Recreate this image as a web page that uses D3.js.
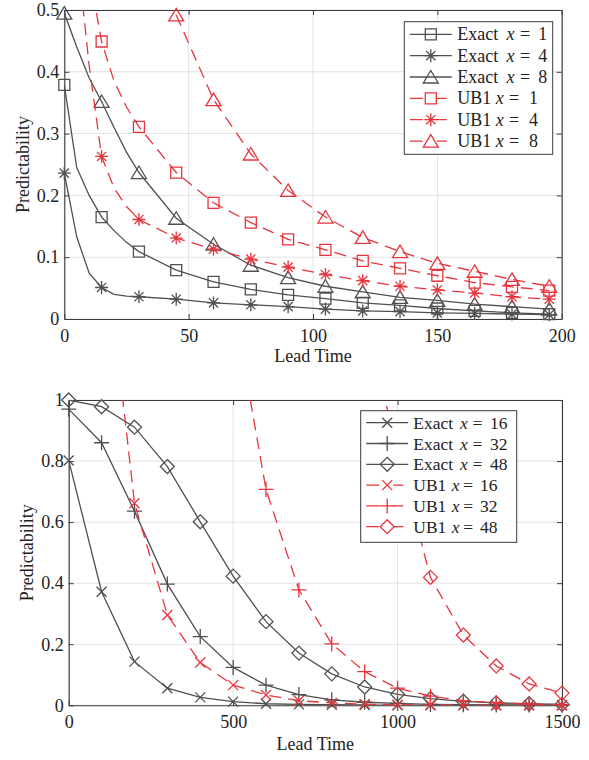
<!DOCTYPE html>
<html>
<head>
<meta charset="utf-8">
<script src="https://cdn.jsdelivr.net/npm/d3@7"></script>
<style>
body { margin: 0; background: #fff; }
text { font-family: "Liberation Serif", "Times New Roman", serif; fill: #222; }
</style>
</head>
<body>
<div id="chart"></div>
<script>
var width = 589,
    height = 760;

var gray = "#505050",
    red = "#e8343c";

// ---- top panel data (lead time 0..195) ----
var leadTop = [0, 5, 10, 15, 20, 25, 30, 45, 60, 75, 90, 105, 120, 135, 150, 165, 180, 195];
var exact1 = [0.379, 0.245, 0.200, 0.165, 0.143, 0.124, 0.109, 0.079, 0.060, 0.048, 0.039, 0.033, 0.026, 0.022, 0.017, 0.013, 0.010, 0.008];
var exact4 = [0.236, 0.133, 0.074, 0.051, 0.040, 0.037, 0.036, 0.032, 0.026, 0.023, 0.020, 0.016, 0.013, 0.012, 0.010, 0.009, 0.008, 0.007];
var exact8 = [0.495, 0.440, 0.390, 0.352, 0.310, 0.270, 0.237, 0.163, 0.121, 0.087, 0.067, 0.053, 0.044, 0.035, 0.030, 0.024, 0.020, 0.016];
var ub1x1 = [1.20, 0.78, 0.56, 0.449, 0.385, 0.343, 0.311, 0.237, 0.188, 0.156, 0.129, 0.112, 0.094, 0.082, 0.070, 0.059, 0.052, 0.046];
var ub1x4 = [1.00, 0.60, 0.41, 0.263, 0.212, 0.182, 0.161, 0.131, 0.113, 0.097, 0.084, 0.072, 0.062, 0.053, 0.047, 0.042, 0.036, 0.032];
var ub1x8 = [3.00, 2.00, 1.50, 1.15, 0.95, 0.82, 0.72, 0.492, 0.355, 0.267, 0.208, 0.165, 0.132, 0.109, 0.090, 0.077, 0.064, 0.053];
var xTicksTop = [0, 50, 100, 150, 200];
var yTicksTop = [0, 0.1, 0.2, 0.3, 0.4, 0.5];

// ---- bottom panel data (lead time 0..1500) ----
var leadBot = [0, 100, 200, 300, 400, 500, 600, 700, 800, 900, 1000, 1100, 1200, 1300, 1400, 1500];
var exact16 = [0.802, 0.372, 0.143, 0.056, 0.026, 0.012, 0.005, 0.003, 0.002, 0.001, 0, 0, 0, 0, 0, 0];
var exact32 = [0.970, 0.860, 0.636, 0.397, 0.225, 0.124, 0.066, 0.035, 0.018, 0.010, 0.006, 0.003, 0.002, 0.001, 0.001, 0];
var exact48 = [1.000, 0.978, 0.911, 0.782, 0.601, 0.423, 0.274, 0.171, 0.103, 0.060, 0.036, 0.022, 0.013, 0.008, 0.005, 0.003];
var ub1x16 = [2.50, 1.62, 0.662, 0.296, 0.140, 0.066, 0.034, 0.015, 0.008, 0.004, 0.002, 0.001, 0.001, 0, 0, 0];
var ub1x32 = [5.0, 4.0, 3.2, 2.5, 1.9, 1.32, 0.707, 0.378, 0.201, 0.110, 0.056, 0.030, 0.015, 0.008, 0.004, 0.002];
var ub1x48 = [9.0, 8.0, 7.0, 6.0, 5.0, 4.4, 3.6, 2.7, 1.9, 1.28, 0.83, 0.419, 0.230, 0.129, 0.070, 0.040];
var xTicksBot = [0, 500, 1000, 1500];
var yTicksBot = [0, 0.2, 0.4, 0.6, 0.8, 1];

var svg = d3.select("#chart")
    .append("svg")
    .attr("width", width)
    .attr("height", height);

// marker shapes, centred on 0,0
function markerPath(type) {
    var p = d3.path();
    if (type == "square") {
        p.rect(-5.5, -5.5, 11, 11);
    } else if (type == "star") {
        p.moveTo(-6.5, 0); p.lineTo(6.5, 0);
        p.moveTo(0, -6.5); p.lineTo(0, 6.5);
        p.moveTo(-4.6, -4.6); p.lineTo(4.6, 4.6);
        p.moveTo(-4.6, 4.6); p.lineTo(4.6, -4.6);
    } else if (type == "triangle") {
        p.moveTo(0, -6.5); p.lineTo(7.5, 6); p.lineTo(-7.5, 6); p.closePath();
    } else if (type == "diamond") {
        p.moveTo(0, -7); p.lineTo(7, 0); p.lineTo(0, 7); p.lineTo(-7, 0); p.closePath();
    } else if (type == "cross") {
        p.moveTo(-5, -5); p.lineTo(5, 5);
        p.moveTo(-5, 5); p.lineTo(5, -5);
    } else if (type == "plus") {
        p.moveTo(-7.5, 0); p.lineTo(7.5, 0);
        p.moveTo(0, -7.5); p.lineTo(0, 7.5);
    }
    return p.toString();
}

function drawPanel(cfg) {
    var x = d3.scaleLinear().domain(cfg.xDomain).range([cfg.left, cfg.right]);
    var y = d3.scaleLinear().domain(cfg.yDomain).range([cfg.bottom, cfg.top]);
    var g = svg.append("g");
    var fmt = d3.format("~g");

    // grid
    g.append("g").selectAll("line").data(cfg.xTicks).enter().append("line")
        .attr("x1", function(d) { return x(d); }).attr("x2", function(d) { return x(d); })
        .attr("y1", cfg.top).attr("y2", cfg.bottom)
        .attr("stroke", "#e2e2e2").attr("stroke-width", 1);
    g.append("g").selectAll("line").data(cfg.yTicks).enter().append("line")
        .attr("y1", function(d) { return y(d); }).attr("y2", function(d) { return y(d); })
        .attr("x1", cfg.left).attr("x2", cfg.right)
        .attr("stroke", "#e2e2e2").attr("stroke-width", 1);

    // axes, ticks pointing inward
    var axB = g.append("g").attr("transform", "translate(0," + cfg.bottom + ")")
        .call(d3.axisBottom(x).tickValues(cfg.xTicks).tickFormat(fmt).tickSizeInner(-5).tickSizeOuter(0).tickPadding(10));
    var axL = g.append("g").attr("transform", "translate(" + cfg.left + ",0)")
        .call(d3.axisLeft(y).tickValues(cfg.yTicks).tickFormat(fmt).tickSizeInner(-5).tickSizeOuter(0).tickPadding(5));
    var axT = g.append("g").attr("transform", "translate(0," + cfg.top + ")")
        .call(d3.axisTop(x).tickValues(cfg.xTicks).tickFormat("").tickSizeInner(-5).tickSizeOuter(0));
    var axR = g.append("g").attr("transform", "translate(" + cfg.right + ",0)")
        .call(d3.axisRight(y).tickValues(cfg.yTicks).tickFormat("").tickSizeInner(-5).tickSizeOuter(0));
    [axB, axL, axT, axR].forEach(function(a) {
        a.selectAll("path.domain").attr("stroke", "#3a3a3a").attr("stroke-width", 1.1);
        a.selectAll(".tick line").attr("stroke", "#3a3a3a").attr("stroke-width", 1);
        a.selectAll("text").attr("font-size", 18).attr("fill", "#222")
            .style("font-family", "'Liberation Serif', serif");
    });

    // axis titles
    g.append("text")
        .attr("x", (cfg.left + cfg.right) / 2).attr("y", cfg.bottom + cfg.xLabelGap)
        .attr("text-anchor", "middle").attr("font-size", 18).text("Lead Time");
    g.append("text")
        .attr("transform", "translate(" + (cfg.left - 35.8) + "," + ((cfg.top + cfg.bottom) / 2) + ") rotate(-90)")
        .attr("text-anchor", "middle").attr("font-size", 18).text("Predictability");

    var clipId = "clip" + cfg.id;
    svg.append("clipPath").attr("id", clipId).append("rect")
        .attr("x", cfg.left).attr("y", cfg.top)
        .attr("width", cfg.right - cfg.left).attr("height", cfg.bottom - cfg.top);

    var line = d3.line()
        .x(function(d) { return x(d[0]); })
        .y(function(d) { return y(d[1]); });

    cfg.series.forEach(function(s) {
        var pts = cfg.lead.map(function(l, i) { return [l, s.vals[i]]; });
        g.append("path")
            .datum(pts)
            .attr("d", line)
            .attr("clip-path", "url(#" + clipId + ")")
            .attr("fill", "none")
            .attr("stroke", s.color)
            .attr("stroke-width", 1.3)
            .attr("stroke-dasharray", s.dashed ? "12,7" : null);
        var mk = pts.filter(function(d) {
            return cfg.markerAt(d[0]) && d[1] <= cfg.yDomain[1] && d[1] >= cfg.yDomain[0];
        });
        g.append("g").selectAll("path").data(mk).enter().append("path")
            .attr("d", markerPath(s.marker))
            .attr("transform", function(d) { return "translate(" + x(d[0]) + "," + y(d[1]) + ")"; })
            .attr("fill", "none")
            .attr("stroke", s.color)
            .attr("stroke-width", 1.3);
    });

    // legend
    var L = cfg.legend;
    var lg = g.append("g");
    lg.append("rect")
        .attr("x", L.x).attr("y", L.y).attr("width", L.w).attr("height", L.h)
        .attr("fill", "#fff").attr("stroke", "#3a3a3a").attr("stroke-width", 1);
    cfg.series.forEach(function(s, i) {
        var yy = L.y + L.first + i * L.step;
        var x0 = L.x + 5.5, x1 = s.dashed ? L.x + 42.5 : L.x + 47.5;
        lg.append("line")
            .attr("x1", x0).attr("x2", x1).attr("y1", yy).attr("y2", yy)
            .attr("stroke", s.color).attr("stroke-width", 1.3)
            .attr("stroke-dasharray", s.dashed ? "13,14" : null);
        lg.append("path")
            .attr("d", markerPath(s.marker))
            .attr("transform", "translate(" + (L.x + 26.5) + "," + yy + ")")
            .attr("fill", "none").attr("stroke", s.color).attr("stroke-width", 1.3);
        var tx = L.x + L.textX;
        var off = s.name == "Exact" ? L.offExact : L.offUB;
        var t = lg.append("text")
            .attr("y", yy + 6)
            .attr("font-size", L.fs);
        t.append("tspan").attr("x", tx).text(s.name);
        t.append("tspan").attr("x", tx + off[0]).attr("font-style", "italic").text("x");
        t.append("tspan").attr("x", tx + off[1] - 5).text("=");
        t.append("tspan").attr("x", tx + off[2]).text(s.x);
    });
}

drawPanel({
    id: "top",
    left: 64.3, right: 561.7, top: 10, bottom: 319,
    xDomain: [0, 200], yDomain: [0, 0.5],
    xTicks: xTicksTop, yTicks: yTicksTop,
    xLabelGap: 43,
    lead: leadTop,
    markerAt: function(l) { return l % 15 == 0; },
    series: [
        { name: "Exact", x: 1, vals: exact1, color: gray, dashed: false, marker: "square" },
        { name: "Exact", x: 4, vals: exact4, color: gray, dashed: false, marker: "star" },
        { name: "Exact", x: 8, vals: exact8, color: gray, dashed: false, marker: "triangle" },
        { name: "UB1", x: 1, vals: ub1x1, color: red, dashed: true, marker: "square" },
        { name: "UB1", x: 4, vals: ub1x4, color: red, dashed: true, marker: "star" },
        { name: "UB1", x: 8, vals: ub1x8, color: red, dashed: true, marker: "triangle" }
    ],
    legend: { x: 404.3, y: 21.7, w: 148.4, h: 132.6, first: 12.6, step: 21.35, textX: 53, fs: 18,
              offExact: [49.3, 67.7, 81], offUB: [38.4, 56.7, 71.7] }
});

drawPanel({
    id: "bot",
    left: 68.7, right: 562, top: 400, bottom: 705.3,
    xDomain: [0, 1500], yDomain: [0, 1],
    xTicks: xTicksBot, yTicks: yTicksBot,
    xLabelGap: 45,
    lead: leadBot,
    markerAt: function(l) { return true; },
    series: [
        { name: "Exact", x: 16, vals: exact16, color: gray, dashed: false, marker: "cross" },
        { name: "Exact", x: 32, vals: exact32, color: gray, dashed: false, marker: "plus" },
        { name: "Exact", x: 48, vals: exact48, color: gray, dashed: false, marker: "diamond" },
        { name: "UB1", x: 16, vals: ub1x16, color: red, dashed: true, marker: "cross" },
        { name: "UB1", x: 32, vals: ub1x32, color: red, dashed: true, marker: "plus" },
        { name: "UB1", x: 48, vals: ub1x48, color: red, dashed: true, marker: "diamond" }
    ],
    legend: { x: 360.7, y: 410.7, w: 156, h: 131.6, first: 12, step: 20.8, textX: 52.6, fs: 17.5,
              offExact: [46.7, 64.2, 76.7], offUB: [38.4, 55, 66.7] }
});
</script>
</body>
</html>
